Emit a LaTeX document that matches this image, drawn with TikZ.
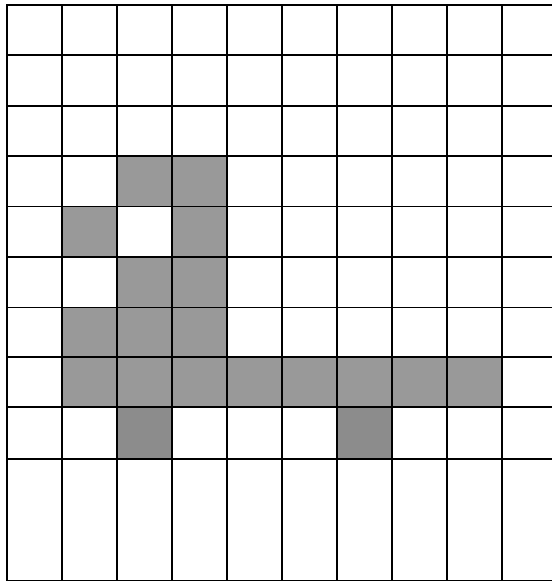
\documentclass[tikz,border=0pt]{standalone}
\begin{document}
\begin{tikzpicture}[x=1pt,y=-1pt,
  gridline/.style={line width=1.7pt,black},
  cell/.style={fill={rgb,255:red,153;green,153;blue,153}},
  darkcell/.style={fill={rgb,255:red,140;green,140;blue,140}}]
\useasboundingbox (0,0) rectangle (552,584);
\def\xs{7,62,117,172,227,282,337,392,447,502}
% gray cells (col x from 7 step 55; row y list)
\fill[cell] (117,156) rectangle (227,206.5);
\fill[cell] (62,206.5) rectangle (117,257);
\fill[cell] (172,206.5) rectangle (227,257);
\fill[cell] (117,257) rectangle (227,307.5);
\fill[cell] (62,307.5) rectangle (227,357);
\fill[cell] (62,357) rectangle (502,407);
\fill[darkcell] (117,407) rectangle (172,459);
\fill[darkcell] (337,407) rectangle (392,459);
% vertical lines
\foreach \x in \xs { \draw[gridline] (\x,5) -- (\x,580.5); }
% horizontal lines
\foreach \y in {5,55,106,156,206.5,257,307.5,357,407,459,580.5} { \draw[gridline] (6.15,\y) -- (552,\y); }
\end{tikzpicture}
\end{document}
